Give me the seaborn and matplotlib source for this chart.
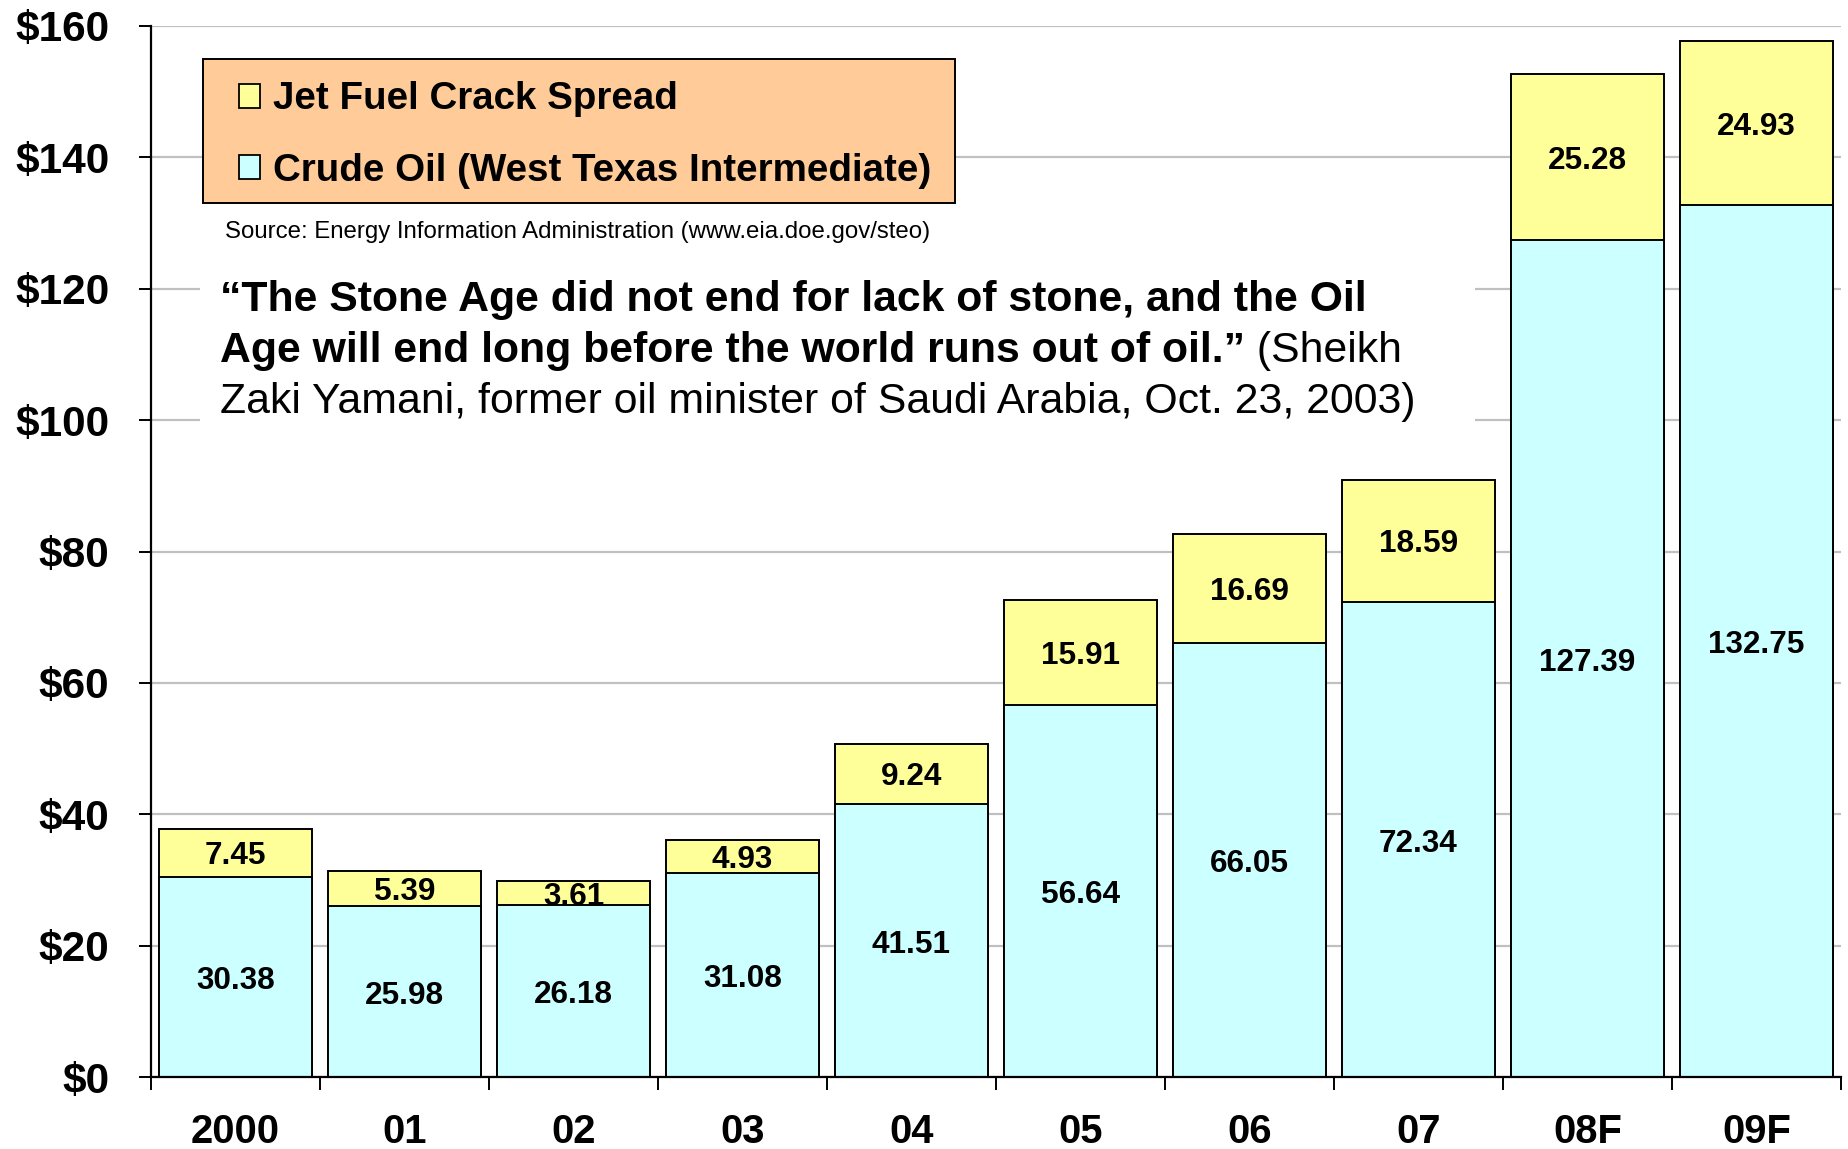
import matplotlib
matplotlib.use("Agg")
import matplotlib.pyplot as plt
import seaborn as sns
import pandas as pd
from matplotlib.patches import Patch, Rectangle

# ---- data ----
years = ["2000", "01", "02", "03", "04", "05", "06", "07", "08F", "09F"]
crude_oil = [30.38, 25.98, 26.18, 31.08, 41.51, 56.64, 66.05, 72.34, 127.39, 132.75]
jet_spread = [7.45, 5.39, 3.61, 4.93, 9.24, 15.91, 16.69, 18.59, 25.28, 24.93]
y_ticks = [0, 20, 40, 60, 80, 100, 120, 140, 160]
y_tick_labels = [r"\$0", r"\$20", r"\$40", r"\$60", r"\$80", r"\$100", r"\$120", r"\$140", r"\$160"]
series_names = ["Jet Fuel Crack Spread", "Crude Oil (West Texas Intermediate)"]

C_JET = "#FFFF99"
C_CRUDE = "#CCFFFF"

sns.set_theme(style="white")
plt.rcParams["font.family"] = ["Liberation Sans", "DejaVu Sans"]
plt.rcParams["text.color"] = "black"
plt.rcParams["axes.labelcolor"] = "black"
plt.rcParams["xtick.color"] = "black"
plt.rcParams["ytick.color"] = "black"

W, H = 1848, 1149
fig = plt.figure(figsize=(W / 100, H / 100), dpi=100)

def fx(px):
    return px / W

def fy(py):
    return 1 - py / H

AX_L, AX_R, AX_T, AX_B = 151, 1841, 26, 1077
ax = fig.add_axes([fx(AX_L), fy(AX_B), (AX_R - AX_L) / W, (AX_B - AX_T) / H])

df = pd.DataFrame({"year": years, "crude": crude_oil, "jet": jet_spread})
df["total"] = df["crude"] + df["jet"]

sns.barplot(data=df, x="year", y="total", color=C_JET, saturation=1,
            edgecolor="black", linewidth=1.4, width=0.91, ax=ax, zorder=2)
sns.barplot(data=df, x="year", y="crude", color=C_CRUDE, saturation=1,
            edgecolor="black", linewidth=1.4, width=0.91, ax=ax, zorder=3)

# value labels
for i, (c, j) in enumerate(zip(crude_oil, jet_spread)):
    ax.annotate(f"{c:.2f}", xy=(i, c / 2), xytext=(0, -3), textcoords="offset points",
                ha="center", va="center", fontsize=22.7, fontweight="bold",
                color="black", zorder=4)
    ax.annotate(f"{j:.2f}", xy=(i, c + j / 2), xytext=(0, -2.5), textcoords="offset points",
                ha="center", va="center", fontsize=22.7, fontweight="bold",
                color="black", zorder=2.5)

ax.set_xlim(-0.5, len(years) - 0.5)
ax.set_ylim(0, 160)
ax.set_xlabel("")
ax.set_ylabel("")

ax.set_yticks(y_ticks, y_tick_labels, fontsize=30.5, fontweight="bold", color="black")
ax.set_xticks(range(len(years)), years, fontsize=28.8, fontweight="bold", color="black")
ax.set_xticks([i - 0.5 for i in range(len(years) + 1)], minor=True)
ax.tick_params(axis="y", direction="out", length=9, width=1.4, color="black", pad=21, left=True)
ax.tick_params(axis="x", which="major", length=0, pad=26)
ax.tick_params(axis="x", which="minor", direction="out", length=9, width=1.4, color="black", bottom=True)

ax.yaxis.grid(True, color="#c0c0c0", linewidth=1.6)
ax.xaxis.grid(False)
ax.set_axisbelow(True)
for s in ["top", "right"]:
    ax.spines[s].set_visible(False)
for s in ["left", "bottom"]:
    ax.spines[s].set_color("black")
    ax.spines[s].set_linewidth(1.6)
    ax.spines[s].set_zorder(5)

# legend box
ax.add_artist(Rectangle((fx(203), fy(203)), (955 - 203) / W, (203 - 59) / H,
                        transform=fig.transFigure, facecolor="#FFCC99",
                        edgecolor="black", linewidth=1.4, zorder=4, clip_on=False))
handles = [Patch(facecolor=C_JET, edgecolor="black", linewidth=1.3),
           Patch(facecolor=C_CRUDE, edgecolor="black", linewidth=1.3)]
leg = ax.legend(handles, series_names, loc="center left",
                bbox_to_anchor=(fx(239), fy(135)), bbox_transform=fig.transFigure,
                frameon=False, prop={"weight": "bold", "size": 27.7},
                handlelength=0.55, handleheight=0.6, handletextpad=0.33,
                labelspacing=0.92, borderpad=0, borderaxespad=0)
leg.set_zorder(6)
for t in leg.get_texts():
    t.set_color("black")

# source
fig.text(fx(225), fy(232), "Source: Energy Information Administration (www.eia.doe.gov/steo)",
         ha="left", va="center", fontsize=17.3, color="black")

# white background for quote
ax.add_artist(Rectangle((fx(200), fy(432)), (1475 - 200) / W, (432 - 276) / H,
                        transform=fig.transFigure, facecolor="white",
                        edgecolor="none", zorder=1.5, clip_on=False))

QFS = 30.8
fig.text(fx(220), fy(311), "\u201cThe Stone Age did not end for lack of stone, and the Oil",
         ha="left", va="baseline", fontsize=QFS, fontweight="bold", zorder=6, color="black")
t2 = fig.text(fx(220), fy(362), "Age will end long before the world runs out of oil.\u201d",
              ha="left", va="baseline", fontsize=QFS, fontweight="bold", zorder=6, color="black")
fig.canvas.draw()
bb = t2.get_window_extent()
fig.text(fx(bb.x1), fy(362), " (Sheikh", ha="left", va="baseline",
         fontsize=QFS, fontweight="normal", zorder=6, color="black")
fig.text(fx(220), fy(413), "Zaki Yamani, former oil minister of Saudi Arabia, Oct. 23, 2003)",
         ha="left", va="baseline", fontsize=QFS, fontweight="normal", zorder=6, color="black")

fig.savefig("out.png", dpi=100, facecolor="white")
